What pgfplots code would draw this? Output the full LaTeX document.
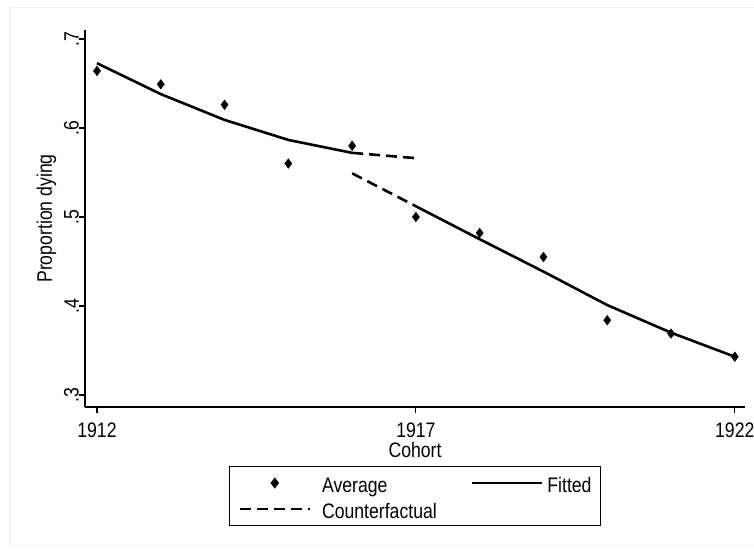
\documentclass[border=0pt]{standalone}
\usepackage{fontspec}
\setmainfont{Liberation Sans}[FakeStretch=0.84]
\usepackage{pgfplots}
\pgfplotsset{compat=1.18}
\pgfplotsset{
  marklegend/.style={legend image code/.code={\draw[mark repeat=2,mark phase=2,##1] plot coordinates {(0pt,0pt) (35pt,0pt) (70pt,0pt)};}},
  linelegend/.style={legend image code/.code={\draw[##1] (0pt,0pt) -- (70pt,0pt);}},
}
\newcommand{\lbl}{\fontsize{21}{25}\selectfont}
\begin{document}
\begin{tikzpicture}[x=1pt,y=1pt]
\path[use as bounding box] (0,0) rectangle (754,-553);
\fill[white] (0,0) rectangle (754,-553);
\draw[color={rgb,255:red,236;green,241;blue,241}, line width=1pt] (9,-8) rectangle (760,-545);
\begin{axis}[
  at={(85pt,-407pt)}, anchor=south west,
  scale only axis, width=660pt, height=377pt,
  xmin=1911.812, xmax=1922.16,
  ymin=0.2865, ymax=0.710,
  axis lines=left,
  axis line style={-, line width=1.4pt, black},
  every tick/.style={line width=1.2pt, black},
  tick align=outside, major tick length=6pt,
  xtick={1912,1917,1922}, xticklabels={1912,1917,1922},
  ytick={0.3,0.4,0.5,0.6,0.7}, yticklabels={.3,.4,.5,.6,.7},
  /pgf/number format/assume math mode=true,
  xticklabel style={font=\lbl, anchor=north, inner sep=0pt, yshift=-10pt},
  yticklabel style={font=\lbl, rotate=90, anchor=south, inner sep=0pt},
  xlabel={Cohort}, ylabel={Proportion dying},
  every axis x label/.style={at={(axis description cs:0.5,0)}, anchor=north, inner sep=0pt, yshift=-35pt, font=\lbl},
  every axis y label/.style={at={(axis description cs:0,0.5)}, rotate=90, anchor=base, inner sep=0pt, yshift=33pt, font=\lbl},
  legend columns=2,
  legend cell align=left,
  legend style={at={(0.5,-0.1565)}, anchor=north, draw=black, line width=1pt,
    font=\lbl, inner xsep=9pt, inner ysep=6pt,
    row sep=5pt, nodes={inner sep=0pt, text height=20pt, text depth=1pt},
    /tikz/column 1/.style={column sep=11pt},
    /tikz/column 2/.style={column sep=34pt},
    /tikz/column 3/.style={column sep=4pt}},
  clip=false,
]
\addplot[only marks, mark=diamond*, mark size=4.8pt, black, marklegend]
  coordinates {(1912,0.664) (1913,0.649) (1914,0.626) (1915,0.560) (1916,0.580)
    (1917,0.500) (1918,0.482) (1919,0.455) (1920,0.384) (1921,0.369) (1922,0.343)};
\addlegendentry{Average}
\addplot[black, line width=2.6pt, linelegend]
  coordinates {(1912,0.6727) (1913,0.638) (1914,0.609) (1915,0.5865) (1916,0.572)};
\addlegendentry{Fitted\hspace{10pt}}
\addplot[black, line width=2.6pt, dash pattern=on 11pt off 6pt, linelegend]
  coordinates {(1916,0.572) (1917,0.566)};
\addlegendentry{Counterfactual}
\addplot[black, line width=2.6pt, dash pattern=on 11pt off 6pt, forget plot]
  coordinates {(1916,0.549) (1917,0.512)};
\addplot[black, line width=2.6pt, forget plot]
  coordinates {(1917,0.512) (1918,0.475) (1919,0.4386) (1920,0.401) (1921,0.370) (1922,0.343)};
\end{axis}
\end{tikzpicture}
\end{document}
